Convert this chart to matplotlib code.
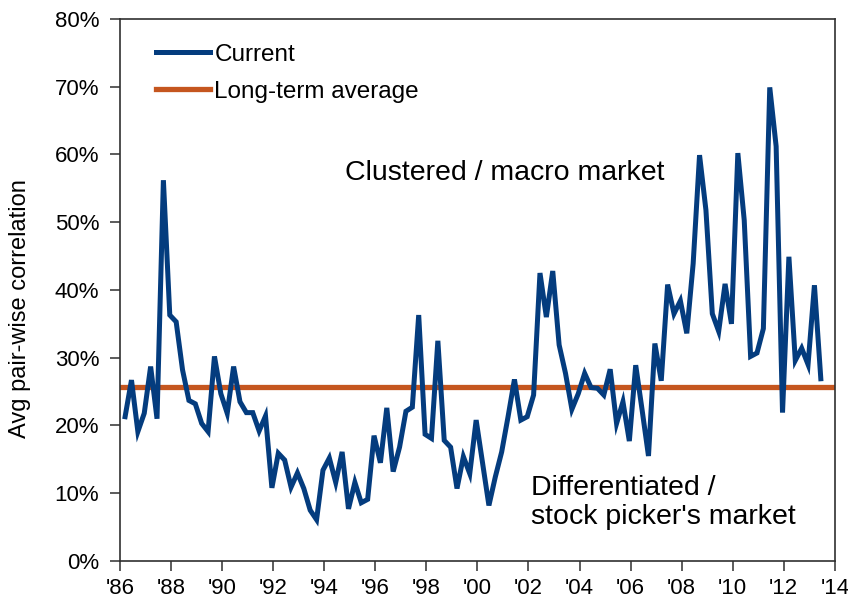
import numpy as np
import matplotlib
matplotlib.use('Agg')
import matplotlib.pyplot as plt
from matplotlib.ticker import FuncFormatter

plt.rcParams['font.family'] = ['Liberation Sans', 'DejaVu Sans']

# quarterly average pair-wise correlation, %, starting 1986 Q1
start_year = 1986.2
current = [21.3, 26.7, 19.1, 21.8, 28.7, 21.0, 56.2, 36.3, 35.3, 28.2,
           23.7, 23.2, 20.3, 19.1, 30.2, 24.7, 21.8, 28.7, 23.5, 21.9,
           21.9, 19.2, 21.4, 10.8, 15.9, 14.9, 10.9, 13.0, 10.7, 7.5,
           6.1, 13.4, 15.2, 11.6, 16.1, 7.7, 11.6, 8.6, 9.1, 18.5,
           14.5, 22.6, 13.2, 16.8, 22.1, 22.7, 36.3, 18.7, 18.1, 32.5,
           17.8, 16.8, 10.7, 15.4, 12.9, 20.8, 14.5, 8.2, 12.4, 16.1,
           21.3, 26.8, 20.8, 21.3, 24.5, 42.5, 36.0, 42.8, 31.9, 27.7,
           22.4, 24.7, 27.7, 25.6, 25.5, 24.5, 28.3, 20.3, 23.5, 17.7,
           28.9, 22.3, 15.5, 32.1, 26.6, 40.8, 36.5, 38.4, 33.6, 43.9,
           59.9, 51.8, 36.5, 33.9, 40.9, 35.0, 60.2, 50.3, 30.2, 30.7,
           34.3, 69.9, 61.2, 21.9, 44.9, 29.6, 31.4, 29.0, 40.7, 26.9]
long_term_avg = 25.7

years = start_year + 0.25 * np.arange(len(current))
xticks = np.arange(1986, 2015, 2)

fig = plt.figure(figsize=(8.48, 6.05), dpi=100)
ax = fig.add_axes([0.1415, 0.0727, 0.843, 0.896])

ax.plot(years, current, color='#043C7E', lw=3.6, label='Current', solid_joinstyle='miter', zorder=3)
ax.axhline(long_term_avg, color='#C5561F', lw=3.8, label='Long-term average', zorder=2)

ax.set_xlim(1986, 2014)
ax.set_ylim(0, 80)
ax.set_xticks(xticks)
ax.xaxis.set_major_formatter(FuncFormatter(lambda v, p: "'%02d" % (int(round(v)) % 100)))
ax.set_yticks(np.arange(0, 81, 10))
ax.yaxis.set_major_formatter(FuncFormatter(lambda v, p: '%d%%' % v))
ax.tick_params(axis='both', direction='out', length=7, width=1.2, color='#404040',
               labelsize=16)
ax.tick_params(axis='x', pad=5)
ax.tick_params(axis='y', pad=8)
for s in ax.spines.values():
    s.set_color('#303030')
    s.set_linewidth(1.2)

ax.set_ylabel('Avg pair-wise correlation', fontsize=17)
ax.yaxis.set_label_coords(-0.125, 0.465)

leg = ax.legend(loc='upper left', frameon=False, handlelength=2.2,
                handletextpad=0.2, labelspacing=0.62, bbox_to_anchor=(0.02, 0.995),
                prop={'size': 17.5})

ax.text(1994.8, 57.3, 'Clustered / macro market', fontsize=20.5, va='center', ha='left')
ax.text(2002.1, 8.6, "Differentiated /\nstock picker's market", fontsize=20.5,
        va='center', ha='left', linespacing=1.15)

fig.savefig('out.png', dpi=100)
